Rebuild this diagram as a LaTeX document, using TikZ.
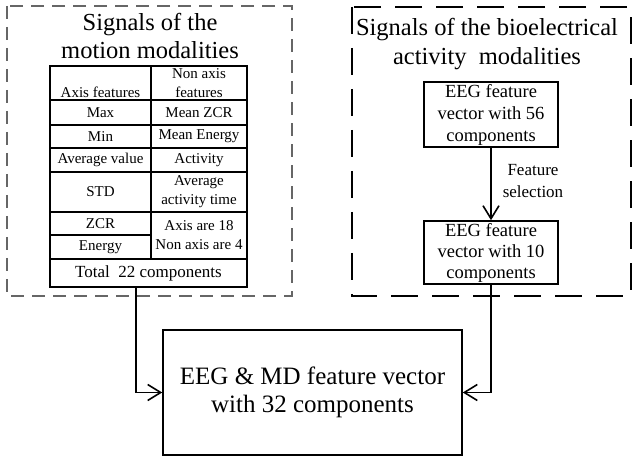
\documentclass[tikz,border=0pt]{standalone}
\usepackage{fontspec}
\setmainfont{Liberation Serif}
\usetikzlibrary{arrows.meta}
\usetikzlibrary{positioning}

\tikzset{
  cell/.style={draw,line width=1.1pt,inner sep=0pt,align=center,font=\fontsize{15}{19}\selectfont},
  vecbox/.style={draw,line width=1.6pt,inner sep=0pt,align=center,minimum width=134pt},
  title/.style={align=center,font=\fontsize{24.5}{28.5}\selectfont},
  link/.style={line width=1.6pt,-{Straight Barb[length=13pt,width=16pt]}},
  zone/.style={line width=1.4pt,dash pattern=on 13pt off 8pt,black!60},
  zonebold/.style={line width=2.4pt,dash pattern=on 27pt off 14pt},
}

\begin{document}
\begin{tikzpicture}[x=1pt,y=-1pt]
                \useasboundingbox (0,0) rectangle (633,457);

                \draw[zone] (7,6) rectangle (292,296);
                \draw[zonebold] (352,7) rectangle (631,296);

                \node[title] (motiontitle) at (150,36) {Signals of the\\motion modalities};
                \node[title] (biotitle) at (487,44) {Signals of the bioelectrical\\activity\ \ modalities};

                \node[cell,minimum width=101pt,minimum height=34pt] (axishead) at (100.5,83) {\vphantom{N}\\Axis features};
                \node[cell,minimum width=96pt,minimum height=34pt] (nonaxishead) at (199,83) {Non axis\\features};

                \node[cell,minimum width=101pt,minimum height=25pt] (max) at (100.5,112.5) {Max};
                \node[cell,minimum width=101pt,minimum height=23pt] (min) at (100.5,136.5) {Min};
                \node[cell,minimum width=101pt,minimum height=24pt] (avg) at (100.5,160) {Average value};
                \node[cell,minimum width=101pt,minimum height=40pt] (std) at (100.5,192) {STD};
                \node[cell,minimum width=101pt,minimum height=23pt] (zcr) at (100.5,223.5) {ZCR};
                \node[cell,minimum width=101pt,minimum height=24pt] (energy) at (100.5,247) {Energy};

                \node[cell,minimum width=96pt,minimum height=25pt] (meanzcr) at (199,112.5) {Mean ZCR};
                \node[cell,minimum width=96pt,minimum height=23pt] (meanenergy) at (199,136.5) {Mean Energy};
                \node[cell,minimum width=96pt,minimum height=24pt] (activity) at (199,160) {Activity};
                \node[cell,minimum width=96pt,minimum height=40pt] (acttime) at (199,192) {Average\\activity time};
                \node[cell,minimum width=96pt,minimum height=47pt] (count) at (199,235.5) {Axis are 18\\Non axis are 4};

                \node[cell,minimum width=197pt,minimum height=28pt,font=\fontsize{17}{20}\selectfont] (total) at (148.5,273) {Total\ \ 22 components};

                \draw[line width=1.8pt] (axishead.north west) rectangle (total.south east);
                \draw[line width=1.8pt] (axishead.south west) -- (nonaxishead.south east);
                \draw[line width=1.8pt] (total.north west) -- (total.north east);

                \node[vecbox,minimum height=65pt,font=\fontsize{18.5}{22}\selectfont] (eeg56) at (491,114.5) {EEG feature\\vector with 56\\components};
                \node[vecbox,minimum height=63pt,font=\fontsize{18.5}{21}\selectfont] (eeg10) at (491,252.5) {EEG feature\\vector with 10\\components};
                \node[align=center,font=\fontsize{17}{22}\selectfont] (selection) at (533,181) {Feature\\selection};

                \node[vecbox,minimum width=299pt,minimum height=125pt,font=\fontsize{25}{28}\selectfont] (fused) at (312.5,392.5) {EEG \& MD feature vector\\with 32 components};

                \coordinate (tabdrop) at (136,287);

                \draw[link] (eeg56) -- (eeg10);
                \draw[link] (tabdrop) |- (fused.west);
                \draw[link] (eeg10.south) |- (fused.east);
\end{tikzpicture}
\end{document}
